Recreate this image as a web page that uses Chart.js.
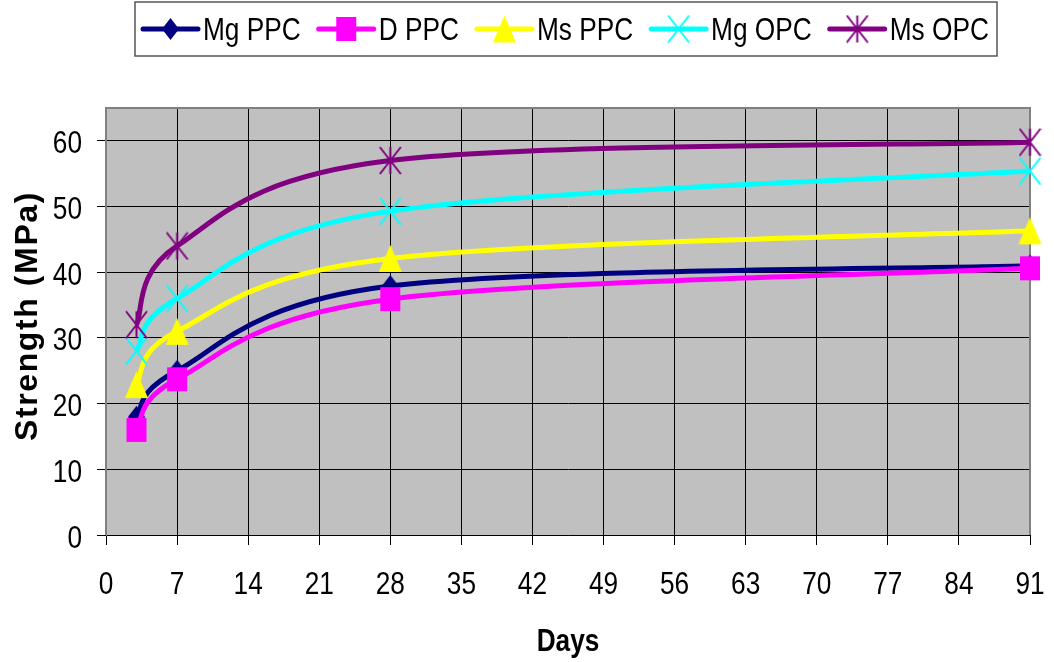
<!DOCTYPE html>
<html lang="en">
<head>
    <meta charset="UTF-8">
    <title>Strength vs Days</title>
    <script src="https://cdn.jsdelivr.net/npm/chart.js"></script>
    <style>
        body { margin: 0; background: #fff; }
        #wrap { width: 1054px; height: 662px; }
    </style>
</head>
<body>
    <div id="wrap"><canvas id="chart" width="1054" height="662"></canvas></div>

    <script>
        // test ages (days) and strengths (MPa)
        const days = [3, 7, 28, 91]
        const mgPPC = [18, 25, 37.9, 41]
        const dPPC = [16, 23.7, 35.9, 40.6]
        const msPPC = [22.9, 31, 42.1, 46.3]
        const mgOPC = [28, 36, 49.3, 55.4]
        const msOPC = [32, 44, 57, 59.8]

        const SERIES_NAMES = ['Mg PPC', 'D PPC', 'Ms PPC', 'Mg OPC', 'Ms OPC']
        const SERIES_VALUES = [mgPPC, dPPC, msPPC, mgOPC, msOPC]
        const SERIES_COLORS = ['#000080', '#FF00FF', '#FFFF00', '#00FFFF', '#800080']
        const SERIES_MARKERS = ['diamond', 'square', 'triangle', 'x', 'star']

        const X_MAX = 91, X_STEP = 7
        const Y_MAX = 65, Y_STEP = 10, Y_LAST_TICK = 60

        const FONT = "'Liberation Sans', Arial, sans-serif"
        const SQUEEZE = 0.82   // the original text is drawn narrow

        // excel-like marker shapes, a bit taller than wide
        function makeMarker(kind, color) {
            const sizes = { diamond: [17, 22], square: [20, 24], triangle: [23, 27], x: [21, 27], star: [21, 27] }
            const [w, h] = sizes[kind]
            const c = document.createElement('canvas')
            c.width = w + 2
            c.height = h + 2
            const g = c.getContext('2d')
            g.translate(1, 1)
            g.fillStyle = color
            g.strokeStyle = color
            g.lineWidth = 2
            g.beginPath()
            if (kind === 'diamond') {
                g.moveTo(w / 2, 0); g.lineTo(w, h / 2); g.lineTo(w / 2, h); g.lineTo(0, h / 2)
                g.closePath(); g.fill()
            } else if (kind === 'square') {
                g.rect(0, 0, w, h); g.fill()
            } else if (kind === 'triangle') {
                g.moveTo(w / 2, 0); g.lineTo(w, h); g.lineTo(0, h)
                g.closePath(); g.fill()
            } else {
                g.moveTo(0, 0); g.lineTo(w, h)
                g.moveTo(w, 0); g.lineTo(0, h)
                if (kind === 'star') { g.moveTo(w / 2, 0); g.lineTo(w / 2, h) }
                g.stroke()
            }
            return c
        }

        const markers = SERIES_MARKERS.map((m, i) => makeMarker(m, SERIES_COLORS[i]))

        const datasets = SERIES_NAMES.map((name, i) => ({
            label: name,
            data: days.map((d, j) => ({ x: d, y: SERIES_VALUES[i][j] })),
            borderColor: SERIES_COLORS[i],
            backgroundColor: SERIES_COLORS[i],
            borderWidth: 5,
            tension: 0.4,
            pointStyle: markers[i],
            pointRadius: 10,
            clip: false,
            order: SERIES_NAMES.length - i
        }))

        function narrowText(ctx, text, x, y, align) {
            ctx.save()
            ctx.translate(x, y)
            ctx.scale(SQUEEZE, 1)
            ctx.textAlign = align
            ctx.fillText(text, 0, 0)
            ctx.restore()
        }

        // smoothing like excel: control points at +-1/6 of neighbour span
        const excelSmooth = {
            id: 'excelSmooth',
            beforeDatasetsDraw(chart) {
                chart.getSortedVisibleDatasetMetas().forEach(meta => {
                    meta.dataset.updateControlPoints(chart.chartArea, meta.iScale.axis)
                    const pts = meta.data
                    pts.forEach((p, i) => {
                        const prev = pts[i - 1] || p
                        const next = pts[i + 1] || p
                        const dx = (next.x - prev.x) / 6
                        const dy = (next.y - prev.y) / 6
                        p.cp1x = p.x - dx; p.cp1y = p.y - dy
                        p.cp2x = p.x + dx; p.cp2y = p.y + dy
                    })
                })
            }
        }

        const plotFrame = {
            id: 'plotFrame',
            beforeDraw(chart) {
                const a = chart.chartArea, ctx = chart.ctx
                ctx.save()
                ctx.fillStyle = '#C0C0C0'
                ctx.fillRect(a.left, a.top, a.right - a.left, a.bottom - a.top)
                ctx.restore()
            },
            beforeDatasetsDraw(chart) {
                const a = chart.chartArea, ctx = chart.ctx
                ctx.save()
                ctx.strokeStyle = '#808080'
                ctx.lineWidth = 2
                ctx.beginPath()
                ctx.moveTo(a.left, a.bottom)
                ctx.lineTo(a.left, a.top)
                ctx.lineTo(a.right, a.top)
                ctx.lineTo(a.right, a.bottom)
                ctx.stroke()
                ctx.restore()
            }
        }

        // tick labels, axis titles and legend, in the narrow excel look
        const textLayer = {
            id: 'textLayer',
            afterDraw(chart) {
                const ctx = chart.ctx, a = chart.chartArea
                const xs = chart.scales.x, ys = chart.scales.y
                ctx.save()
                ctx.fillStyle = '#000'
                ctx.textBaseline = 'alphabetic'

                ctx.font = '32px ' + FONT
                ys.ticks.forEach(t => {
                    narrowText(ctx, String(t.value), 82, ys.getPixelForValue(t.value) + 12.5, 'right')
                })
                xs.ticks.forEach(t => {
                    narrowText(ctx, String(t.value), xs.getPixelForValue(t.value), 594, 'center')
                })

                // y title, letter-spaced
                ctx.save()
                ctx.translate(37, 316)
                ctx.rotate(-Math.PI / 2)
                ctx.font = 'bold 32px ' + FONT
                ctx.letterSpacing = '1.6px'
                ctx.textAlign = 'center'
                ctx.fillText('Strength (MPa)', 0, 0)
                ctx.restore()

                ctx.font = 'bold 32px ' + FONT
                narrowText(ctx, 'Days', (a.left + a.right) / 2, 651, 'center')

                // legend
                ctx.font = '32px ' + FONT
                let x = 143
                const cy = 29
                chart.data.datasets.forEach((ds, i) => {
                    ctx.strokeStyle = ds.borderColor
                    ctx.lineWidth = 5
                    ctx.lineCap = 'round'
                    ctx.beginPath()
                    ctx.moveTo(x, cy)
                    ctx.lineTo(x + 55, cy)
                    ctx.stroke()
                    const m = markers[i]
                    ctx.drawImage(m, x + 27.5 - m.width / 2, cy - m.height / 2)
                    narrowText(ctx, ds.label, x + 60, 40, 'left')
                    x += 60 + ctx.measureText(ds.label).width * SQUEEZE + 18
                })
                ctx.strokeStyle = '#555'
                ctx.lineWidth = 1.5
                ctx.strokeRect(135, 2, 997 - 135, 54)
                ctx.restore()
            }
        }

        new Chart(document.getElementById('chart'), {
            type: 'line',
            data: { datasets },
            options: {
                responsive: false,
                devicePixelRatio: 1,
                animation: false,
                layout: { padding: { top: 108, right: 24, left: 0, bottom: 0 } },
                plugins: {
                    legend: { display: false },
                    tooltip: { enabled: false }
                },
                scales: {
                    x: {
                        type: 'linear',
                        min: 0,
                        max: X_MAX,
                        afterFit: s => { s.height = 127 },
                        grid: { color: '#000', tickLength: 10, tickColor: '#000' },
                        border: { color: '#000' },
                        ticks: { stepSize: X_STEP, autoSkip: false, maxRotation: 0, display: false }
                    },
                    y: {
                        min: 0,
                        max: Y_MAX,
                        afterFit: s => { s.width = 106 },
                        afterBuildTicks: s => { s.ticks = s.ticks.filter(t => t.value <= Y_LAST_TICK) },
                        grid: { color: '#000', tickLength: 9, tickColor: '#000' },
                        border: { color: '#808080' },
                        ticks: { stepSize: Y_STEP, includeBounds: false, display: false }
                    }
                }
            },
            plugins: [plotFrame, excelSmooth, textLayer]
        })
    </script>
</body>
</html>
